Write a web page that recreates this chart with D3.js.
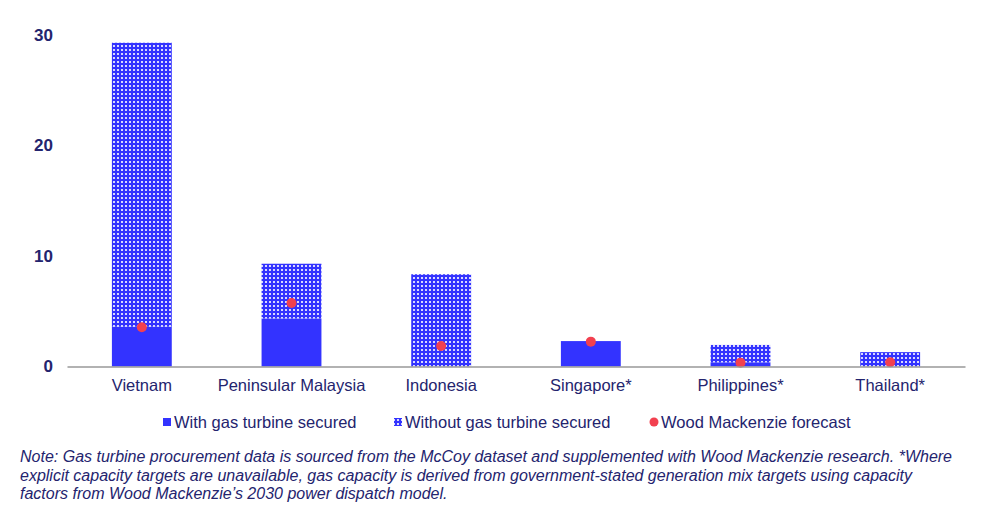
<!DOCTYPE html>
<html><head><meta charset="utf-8">
<script src="https://cdn.jsdelivr.net/npm/d3@7"></script>
<style>
body{margin:0;background:#fff;}
svg{display:block;font-family:"Liberation Sans",Arial,sans-serif;}
</style></head>
<body>
<svg id="chart" width="1005" height="513"></svg>
<script>
const categories = ["Vietnam","Peninsular Malaysia","Indonesia","Singapore*","Philippines*","Thailand*"];
const withTurbine = [3.6, 4.35, 0, 2.3, 0.38, 0];
const withoutTurbine = [25.7, 4.95, 8.35, 0, 1.57, 1.3];
const forecast = [3.55, 5.75, 1.85, 2.25, 0.35, 0.38];
const yTicks = [0, 10, 20, 30];
const legendLabels = ["With gas turbine secured","Without gas turbine secured","Wood Mackenzie forecast"];
const noteLines = [
  "Note: Gas turbine procurement data is sourced from the McCoy dataset and supplemented with Wood Mackenzie research. *Where",
  "explicit capacity targets are unavailable, gas capacity is derived from government-stated generation mix targets using capacity",
  "factors from Wood Mackenzie\u2019s 2030 power dispatch model."
];

const svg = d3.select("#chart");
const textColor = "#24246e";
const blue = "#3333ff";
const red = "#f2404f";

const defs = svg.append("defs");
const pat = defs.append("pattern").attr("id","dots").attr("patternUnits","userSpaceOnUse")
  .attr("width",4).attr("height",4);
pat.append("rect").attr("width",4).attr("height",4).attr("fill",blue);
pat.append("rect").attr("x",1).attr("y",1).attr("width",2).attr("height",2).attr("fill","#d8d8ff");

const x = d3.scaleBand().domain(categories).range([67, 965]).paddingInner(0.6).paddingOuter(0.3);
const y = d3.scaleLinear().domain([0, 30]).range([366.5, 35]);

// y axis labels
const yAxis = d3.axisLeft(y).tickValues(yTicks).tickSize(0).tickPadding(0).tickFormat(d3.format("d"));
const yg = svg.append("g").attr("transform","translate(53,0)").call(yAxis);
yg.select(".domain").remove();
yg.selectAll("text").attr("fill",textColor).style("font-size","17px").style("font-weight","bold");

// bars
const g = svg.append("g");
g.selectAll(".w").data(categories).join("rect")
  .attr("x", d => x(d)).attr("width", x.bandwidth())
  .attr("y", (d,i) => y(withTurbine[i])).attr("height", (d,i) => y(0) - y(withTurbine[i]))
  .attr("fill", blue);
g.selectAll(".wo").data(categories).join("rect")
  .attr("x", d => x(d)).attr("width", x.bandwidth())
  .attr("y", (d,i) => y(withTurbine[i] + withoutTurbine[i]))
  .attr("height", (d,i) => y(withTurbine[i]) - y(withTurbine[i] + withoutTurbine[i]))
  .attr("fill", "url(#dots)");

// x axis
const xAxis = d3.axisBottom(x).tickSize(0).tickPadding(13);
const xg = svg.append("g").attr("transform",`translate(0,${y(0)})`).call(xAxis);
xg.select(".domain").attr("stroke","#999").attr("stroke-width",1.5);
xg.selectAll("text").attr("fill",textColor).style("font-size","16.5px");

// forecast dots
g.selectAll(".f").data(categories).join("circle")
  .attr("cx", d => x(d) + x.bandwidth()/2)
  .attr("cy", (d,i) => y(forecast[i]))
  .attr("r", 5).attr("fill", red);

// legend
const leg = svg.append("g").attr("transform","translate(0,422)");
leg.append("rect").attr("x",163).attr("y",-4).attr("width",8).attr("height",8).attr("fill",blue);
leg.append("text").attr("x",174).attr("y",6).text(legendLabels[0]);
leg.append("rect").attr("x",394).attr("y",-4).attr("width",8).attr("height",8).attr("fill","url(#dots)");
leg.append("text").attr("x",405).attr("y",6).text(legendLabels[1]);
leg.append("circle").attr("cx",654).attr("cy",0).attr("r",4.5).attr("fill",red);
leg.append("text").attr("x",661).attr("y",6).text(legendLabels[2]);
leg.selectAll("text").attr("fill",textColor).style("font-size","16.5px");

// note
svg.append("g").selectAll("text").data(noteLines).join("text")
  .attr("x",20).attr("y",(d,i)=>462 + i*18.5)
  .attr("fill",textColor).style("font-size","16px").style("font-style","italic")
  .text(d=>d);
</script>
</body></html>
